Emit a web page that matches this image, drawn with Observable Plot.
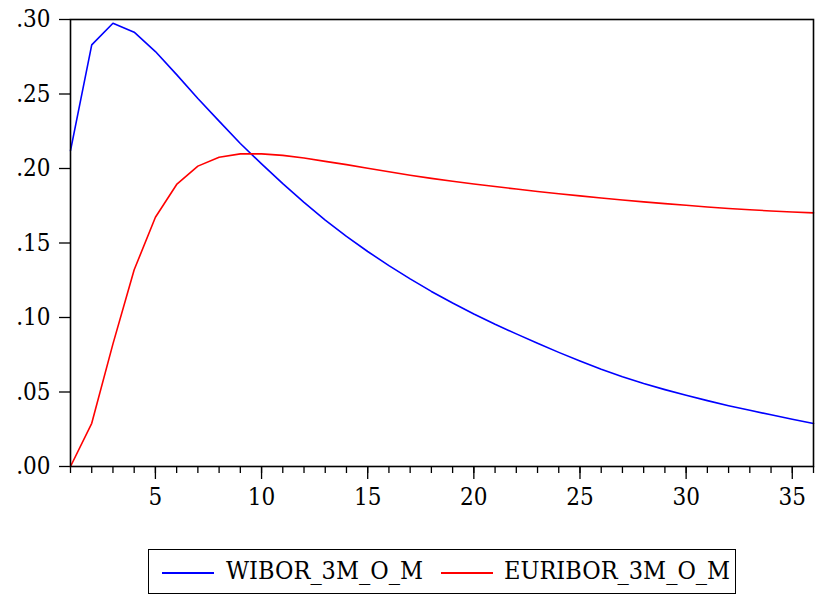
<!DOCTYPE html>
<html>
<head>
<meta charset="utf-8">
<script src="https://cdn.jsdelivr.net/npm/d3@7"></script>
<script src="https://cdn.jsdelivr.net/npm/@observablehq/plot@0.6"></script>
<style>
  html, body { margin: 0; padding: 0; background: #fff; }
  #wrap { position: relative; width: 815px; height: 596px; font-family: "DejaVu Serif Condensed", "DejaVu Serif", serif; font-stretch: condensed; }
  #legend { position: absolute; left: 148px; top: 549px; width: 586px; height: 43px; border: 1.5px solid #000; box-sizing: content-box; }
  .sw { position: absolute; top: 22px; height: 1.6px; width: 52px; }
  .lt { position: absolute; top: 6px; font-size: 25px; line-height: 29px; white-space: nowrap; color: #000; }
</style>
</head>
<body>
<div id="wrap">
  <div id="chart"></div>
  <div id="legend"></div>
</div>
<script>
const periods = [1,2,3,4,5,6,7,8,9,10,11,12,13,14,15,16,17,18,19,20,21,22,23,24,25,26,27,28,29,30,31,32,33,34,35,36];
const wibor = [0.212,0.283,0.2975,0.2915,0.2785,0.263,0.247,0.2318,0.2168,0.2031,0.1898,0.1772,0.1654,0.1545,0.1443,0.1348,0.1259,0.1175,0.1097,0.1024,0.0955,0.0890,0.0827,0.0766,0.0708,0.0653,0.0602,0.0557,0.0516,0.0478,0.0442,0.0408,0.0377,0.0347,0.0317,0.0288];
const euribor = [0.0,0.029,0.0823,0.132,0.1673,0.1893,0.2016,0.2076,0.2098,0.2098,0.2088,0.2070,0.2048,0.2026,0.2002,0.1978,0.1955,0.1934,0.1914,0.1896,0.1879,0.1862,0.1846,0.1831,0.1816,0.1802,0.1789,0.1776,0.1764,0.1753,0.1742,0.1732,0.1723,0.1715,0.1708,0.1702];
const seriesNames = ["WIBOR_3M_O_M", "EURIBOR_3M_O_M"];
const seriesColors = ["#0000ff", "#ff0000"];
const yTicks = [0, 0.05, 0.10, 0.15, 0.20, 0.25, 0.30];
const xMajorTicks = [5, 10, 15, 20, 25, 30, 35];

const rows = [];
periods.forEach((p, i) => {
  rows.push({period: p, value: wibor[i], series: seriesNames[0]});
  rows.push({period: p, value: euribor[i], series: seriesNames[1]});
});

const yFmt = d => d3.format(".2f")(d).replace(/^0/, "");

const chart = Plot.plot({
  width: 815,
  height: 540,
  marginLeft: 70,
  marginRight: 2,
  marginTop: 19,
  marginBottom: 74,
  style: {fontFamily: "'DejaVu Serif Condensed', 'DejaVu Serif', serif", fontStretch: "condensed", fontSize: "24px", background: "white", color: "black"},
  x: {domain: [1, 36], label: null},
  y: {domain: [0, 0.30], label: null},
  color: {domain: seriesNames, range: seriesColors},
  marks: [
    Plot.axisY({ticks: yTicks, tickSize: 11, tickPadding: 9, tickFormat: yFmt, fontSize: 24, label: null, stroke: "#000", strokeWidth: 1.3}),
    Plot.axisX({ticks: periods, tickSize: 7, tickFormat: () => "", label: null, stroke: "#000", strokeWidth: 1.3}),
    Plot.axisX({ticks: xMajorTicks, tickSize: 13, tickPadding: 8, tickFormat: d => String(d), fontSize: 24, label: null, stroke: "#000", strokeWidth: 1.3}),
    Plot.line(rows, {x: "period", y: "value", z: "series", stroke: "series", strokeWidth: 1.6}),
    Plot.frame({stroke: "#000", strokeWidth: 1.6})
  ]
});
document.getElementById("chart").appendChild(chart);

const legend = document.getElementById("legend");
const swatchX = [13, 292];
const textX = [77, 355];
seriesNames.forEach((name, i) => {
  const sw = document.createElement("div");
  sw.className = "sw";
  sw.style.left = swatchX[i] + "px";
  sw.style.background = seriesColors[i];
  legend.appendChild(sw);
  const t = document.createElement("div");
  t.className = "lt";
  t.style.left = textX[i] + "px";
  t.textContent = name;
  legend.appendChild(t);
});
</script>
</body>
</html>
